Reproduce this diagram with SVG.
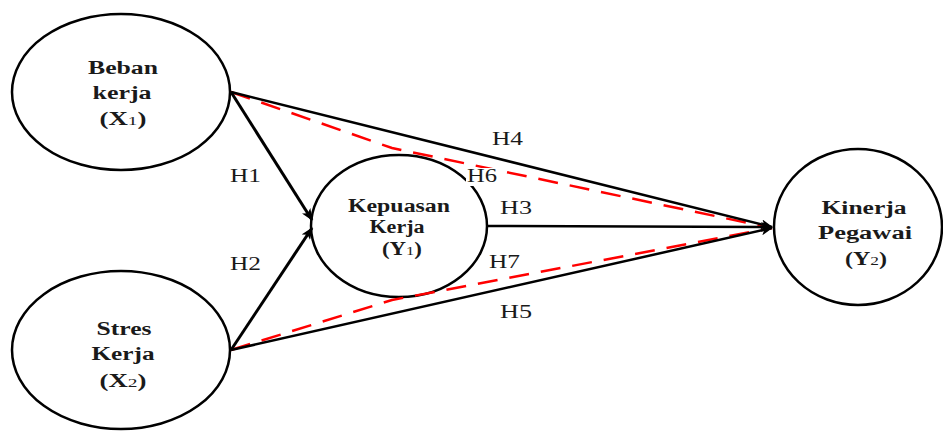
<svg xmlns="http://www.w3.org/2000/svg" width="943" height="432" viewBox="0 0 943 432">
<defs>
<style>
.node{fill:#fff;stroke:#000;stroke-width:2.5}
.nt{font-family:"Liberation Serif","Times New Roman",serif;font-weight:bold;font-size:18px;fill:#1a1a1a;text-anchor:middle}
.sub{font-weight:normal;font-size:13px}
.lbl{font-family:"Liberation Serif","Times New Roman",serif;font-size:18px;fill:#1a1a1a}
.edge{fill:none;stroke:#000;stroke-width:2.5}
.thick{stroke-width:3}
.dash{fill:none;stroke:#ff0000;stroke-width:2.5;stroke-dasharray:20 12}
</style>
<marker id="arr" viewBox="0 0 12 10" refX="11" refY="5" markerWidth="12" markerHeight="10" markerUnits="userSpaceOnUse" orient="auto">
<path d="M0,0 L12,5 L0,10 L3,5 Z" fill="#000"/>
</marker>
</defs>
<rect width="943" height="432" fill="#fff"/>
<g id="X1">
<ellipse class="node" cx="121" cy="92" rx="109" ry="78"/>
<text class="nt" x="123" y="74" textLength="70" lengthAdjust="spacingAndGlyphs">Beban</text>
<text class="nt" x="122" y="99" textLength="59" lengthAdjust="spacingAndGlyphs">kerja</text>
<text class="nt" x="123" y="125" textLength="47" lengthAdjust="spacingAndGlyphs">(X<tspan class="sub">1</tspan>)</text>
</g>
<g id="X2">
<ellipse class="node" cx="121" cy="350" rx="109" ry="79"/>
<text class="nt" x="124" y="335" textLength="55" lengthAdjust="spacingAndGlyphs">Stres</text>
<text class="nt" x="123" y="360" textLength="63" lengthAdjust="spacingAndGlyphs">Kerja</text>
<text class="nt" x="123" y="387" textLength="47" lengthAdjust="spacingAndGlyphs">(X<tspan class="sub">2</tspan>)</text>
</g>
<g id="Y1">
<ellipse class="node" cx="399" cy="226" rx="88" ry="71"/>
<text class="nt" x="399" y="212" textLength="102" lengthAdjust="spacingAndGlyphs">Kepuasan</text>
<text class="nt" x="397" y="233" textLength="55" lengthAdjust="spacingAndGlyphs">Kerja</text>
<text class="nt" x="402" y="255" textLength="40" lengthAdjust="spacingAndGlyphs">(Y<tspan class="sub">1</tspan>)</text>
</g>
<g id="Y2">
<ellipse class="node" cx="858" cy="227" rx="84" ry="78"/>
<text class="nt" x="864" y="214" textLength="85" lengthAdjust="spacingAndGlyphs">Kinerja</text>
<text class="nt" x="865" y="239" textLength="94" lengthAdjust="spacingAndGlyphs">Pegawai</text>
<text class="nt" x="866" y="265" textLength="42" lengthAdjust="spacingAndGlyphs">(Y<tspan class="sub">2</tspan>)</text>
</g>
<g id="connectors">
<polyline class="dash" points="231,92 392,148 772,228"/>
<polyline class="dash" points="231,350 392,300 772,228"/>
<line class="edge thick" x1="231" y1="92" x2="312" y2="220" marker-end="url(#arr)"/>
<line class="edge thick" x1="231" y1="350" x2="312" y2="228" marker-end="url(#arr)"/>
<line class="edge" x1="231" y1="92" x2="772" y2="227" marker-end="url(#arr)"/>
<line class="edge" x1="231" y1="350" x2="772" y2="228" marker-end="url(#arr)"/>
<line class="edge" x1="487" y1="226" x2="772" y2="227" marker-end="url(#arr)"/>
</g>
<g id="labels">
<text class="lbl" x="230" y="182" textLength="31" lengthAdjust="spacingAndGlyphs">H1</text>
<text class="lbl" x="230" y="270" textLength="31" lengthAdjust="spacingAndGlyphs">H2</text>
<text class="lbl" x="500" y="214" textLength="32" lengthAdjust="spacingAndGlyphs">H3</text>
<text class="lbl" x="492" y="145" textLength="31" lengthAdjust="spacingAndGlyphs">H4</text>
<text class="lbl" x="500" y="318" textLength="32" lengthAdjust="spacingAndGlyphs">H5</text>
<rect x="466" y="168" width="32" height="18" fill="#fff"/>
<text class="lbl" x="467" y="182" textLength="30" lengthAdjust="spacingAndGlyphs">H6</text>
<text class="lbl" x="489" y="268" textLength="31" lengthAdjust="spacingAndGlyphs">H7</text>
</g>
</svg>
